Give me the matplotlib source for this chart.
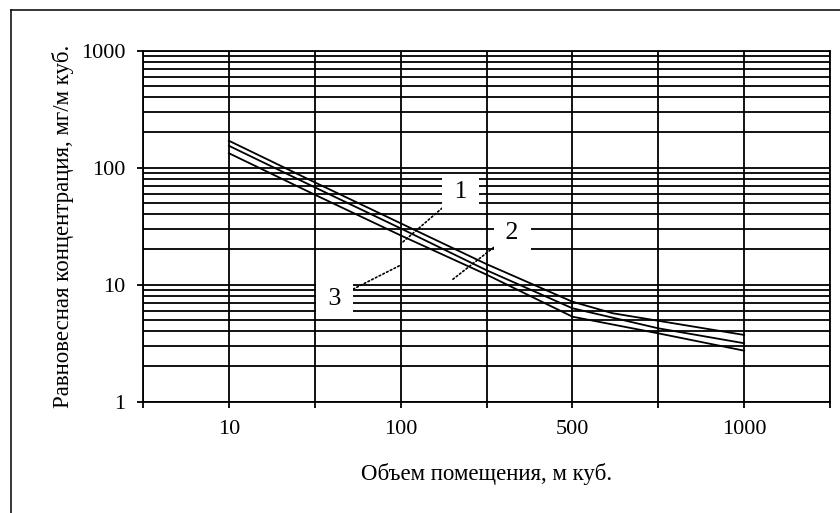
"""Equilibrium concentration vs room volume, three curves on a log scale"""

import matplotlib
matplotlib.use("Agg")
import matplotlib.pyplot as plt
from matplotlib.lines import Line2D
from matplotlib.ticker import LogLocator, NullFormatter, FixedLocator

plt.rcParams["font.family"] = ["Liberation Serif", "DejaVu Serif"]

# category axis: 9 tick slots, labels on every second one
tick_slots = [0, 1, 2, 3, 4, 5, 6, 7, 8]
tick_labels = ["", "10", "", "100", "", "500", "", "1000", ""]

# curves (slot index, value mg/m3)
curve_1_x = [1, 2, 3, 4, 5, 5.47, 7]
curve_1_y = [170, 75, 33.5, 15.0, 7.16, 5.7, 3.72]
curve_2_x = [1, 2, 3, 4, 5, 6, 7]
curve_2_y = [154, 68, 30.3, 13.3, 6.29, 4.24, 3.16]
curve_3_x = [1, 2, 3, 4, 5, 6, 7]
curve_3_y = [133, 58.8, 26.4, 12.2, 5.33, 3.84, 2.73]

# callouts: text, label position, leader end point
callout_names = ["1", "2", "3"]
callout_pos = [(3.70, 62.0), (4.30, 27.7), (2.23, 7.62)]
callout_tip = [(3.00, 22.3), (3.60, 11.0), (3.00, 14.7)]

W, H = 840, 513


def draw_frame(fig):
    """Outer chart border (cut by the image at right and bottom)"""
    x0 = 11 / W
    y0 = 1 - 10 / H
    fig.add_artist(Line2D([x0, x0], [-0.05, y0], color="black", lw=1.1, transform=fig.transFigure))
    fig.add_artist(Line2D([x0, 1.05], [y0, y0], color="black", lw=1.1, transform=fig.transFigure))


fig = plt.figure(figsize=(W / 100, H / 100), dpi=100)
fig.patch.set_facecolor("white")
draw_frame(fig)

ax = fig.add_axes([143 / W, 1 - 401.7 / H, 687 / W, (401.7 - 50.7) / H])
ax.set_yscale("log")
ax.set_ylim(1, 1000)
ax.set_xlim(0, 8)

# grid: every decade step plus 2..9 subdivisions
ax.yaxis.set_major_locator(LogLocator(base=10))
ax.yaxis.set_minor_locator(LogLocator(base=10, subs=range(2, 10)))
ax.yaxis.set_minor_formatter(NullFormatter())
ax.set_yticks([1, 10, 100, 1000])
ax.set_yticklabels(["1", "10", "100", "1000"])
ax.xaxis.set_major_locator(FixedLocator(tick_slots))
ax.set_xticklabels(tick_labels)

ax.grid(True, which="both", axis="y", color="black", lw=1.3)
ax.grid(True, which="major", axis="x", color="black", lw=1.3)
ax.set_axisbelow(True)
for s in ax.spines.values():
    s.set_linewidth(1.3)

ax.tick_params(axis="both", which="major", direction="out", length=4.5, width=1.3, labelsize=16)
ax.tick_params(axis="x", pad=9)
ax.tick_params(axis="y", pad=8)
ax.tick_params(axis="y", which="minor", length=0)

for xs, ys in ((curve_1_x, curve_1_y), (curve_2_x, curve_2_y), (curve_3_x, curve_3_y)):
    ax.plot(xs, ys, color="black", lw=1.3, zorder=3)

for name, pos, tip in zip(callout_names, callout_pos, callout_tip):
    ax.annotate(f" {name} ", xy=tip, xytext=pos, ha="center", va="center", fontsize=18.5, zorder=5,
                bbox=dict(boxstyle="square,pad=0.22", fc="white", ec="none"),
                arrowprops=dict(arrowstyle="-", linestyle=(0, (1, 1.5)), lw=1.2, color="black",
                                shrinkA=0, shrinkB=0))

ax.set_xlabel("Объем помещения, м куб.", fontsize=16.5, labelpad=17)
ax.set_ylabel("Равновесная концентрация, мг/м куб.", fontsize=16.5, labelpad=5)

fig.savefig("out.png", dpi=100, facecolor="white")
plt.close(fig)
